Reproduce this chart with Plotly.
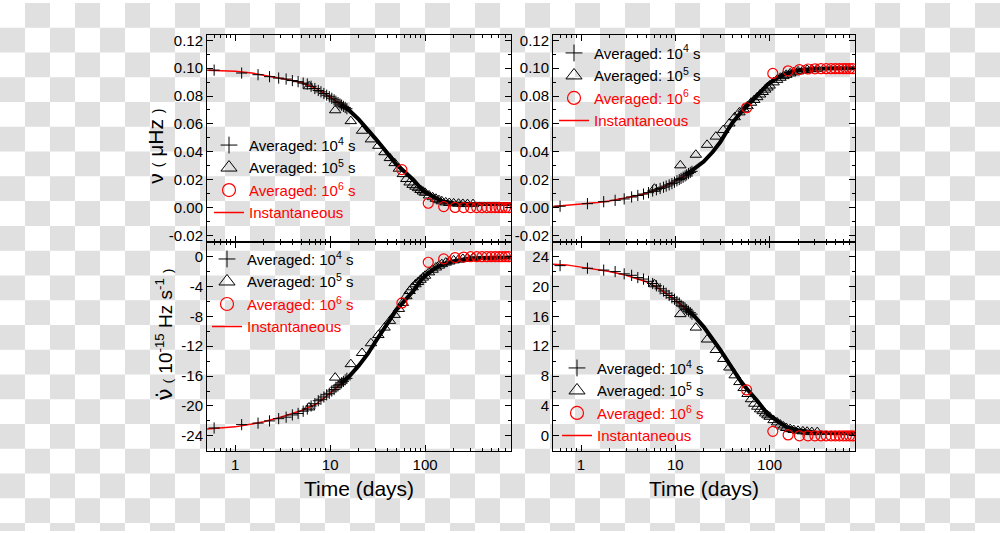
import plotly.graph_objects as go

# ---------------- data ----------------
t_curve = [0.5, 0.7, 1, 1.5, 2, 3, 4, 5, 7, 10, 13, 16, 20, 25, 30, 35, 40, 50, 60, 75, 95, 120, 150, 200, 300, 500, 800]
inst_tl = [0.0986, 0.0982, 0.0977, 0.0965, 0.0950, 0.0930, 0.0912, 0.0895, 0.0858, 0.0792, 0.0738, 0.0695, 0.0633, 0.0562, 0.0495, 0.0440, 0.0388, 0.0308, 0.0260, 0.0201, 0.0120, 0.0078, 0.0046, 0.0031, 0.0025, 0.0025, 0.0025]
inst_tr = [0.0007, 0.0015, 0.0025, 0.0037, 0.0048, 0.0068, 0.0086, 0.0105, 0.0140, 0.0190, 0.0235, 0.0277, 0.0330, 0.0400, 0.0470, 0.0545, 0.0605, 0.0685, 0.0740, 0.0815, 0.0882, 0.0930, 0.0962, 0.0985, 0.0996, 0.1000, 0.1000]
inst_bl = [-23.1, -23.0, -22.8, -22.4, -22.1, -21.5, -21.0, -20.6, -19.8, -18.3, -17.0, -16.0, -14.6, -13.0, -11.4, -10.1, -8.9, -7.1, -6.0, -4.6, -2.8, -1.8, -1.05, -0.6, -0.2, -0.1, -0.1]
inst_br = [23.0, 22.9, 22.6, 22.3, 22.0, 21.5, 21.0, 20.6, 19.6, 18.2, 17.0, 16.0, 14.6, 13.0, 11.5, 10.2, 9.0, 7.2, 6.0, 4.6, 2.9, 1.95, 1.2, 0.75, 0.45, 0.35, 0.35]

t_plus = [0.6, 1.17, 1.74, 2.3, 2.87, 3.44, 4.0, 4.6, 5.2, 5.75, 6.3, 6.9, 7.5, 8.0, 8.6, 9.2, 9.8, 10.4, 11.0, 11.5, 12.1, 12.7, 13.2, 13.8, 14.4, 15.0]
plus_tl = [0.0986, 0.0965, 0.0953, 0.0939, 0.0929, 0.0922, 0.0911, 0.0903, 0.0893, 0.0886, 0.0870, 0.0854, 0.0840, 0.0830, 0.0818, 0.0806, 0.0795, 0.0784, 0.0773, 0.0763, 0.0753, 0.0743, 0.0735, 0.0726, 0.0718, 0.0709]
plus_tr = [0.0010, 0.0028, 0.0042, 0.0052, 0.0062, 0.0076, 0.0087, 0.0097, 0.0107, 0.0119, 0.0128, 0.0137, 0.0146, 0.0154, 0.0163, 0.0172, 0.0182, 0.0192, 0.0201, 0.0209, 0.0218, 0.0227, 0.0235, 0.0244, 0.0252, 0.0260]
plus_bl = [-22.95, -22.5, -22.3, -22.0, -21.7, -21.5, -21.2, -21.0, -20.7, -20.4, -20.0, -19.7, -19.3, -19.1, -18.8, -18.5, -18.3, -18.0, -17.8, -17.5, -17.3, -17.1, -16.9, -16.7, -16.5, -16.3]
plus_br = [22.8, 22.45, 22.2, 22.0, 21.7, 21.5, 21.2, 21.0, 20.7, 20.4, 20.1, 19.7, 19.4, 19.1, 18.8, 18.5, 18.3, 18.0, 17.8, 17.5, 17.3, 17.1, 16.9, 16.7, 16.5, 16.3]

t_tri = [6.0, 11.3, 16.5, 21.7, 26.9, 32.2, 37.4, 42.6, 47.8, 53.0, 58.3, 63.5, 68.7, 73.9, 79.2, 84.4, 89.6, 94.8, 100, 110, 120, 130, 140, 150, 165, 180, 200, 225, 250, 280, 320]
tri_tl = [0.0870, 0.0698, 0.0620, 0.0551, 0.0489, 0.0443, 0.0397, 0.0355, 0.0319, 0.0279, 0.0240, 0.0205, 0.0180, 0.0163, 0.0150, 0.0139, 0.0126, 0.0115, 0.0106, 0.0087, 0.0074, 0.0063, 0.0053, 0.0045, 0.0037, 0.0033, 0.0030, 0.0028, 0.0026, 0.0025, 0.0025]
tri_tr = [0.0135, 0.0303, 0.0379, 0.0450, 0.0509, 0.0556, 0.0603, 0.0648, 0.0683, 0.0705, 0.0728, 0.0752, 0.0772, 0.0792, 0.0811, 0.0829, 0.0846, 0.0861, 0.0875, 0.0898, 0.0916, 0.0931, 0.0943, 0.0952, 0.0962, 0.0970, 0.0977, 0.0983, 0.0988, 0.0992, 0.0995]
tri_bl = [-20.2, -16.2, -14.4, -12.9, -11.6, -10.5, -9.5, -8.6, -7.8, -7.0, -6.2, -5.3, -4.6, -4.1, -3.7, -3.4, -3.1, -2.8, -2.55, -2.1, -1.75, -1.45, -1.2, -1.0, -0.8, -0.65, -0.5, -0.4, -0.3, -0.2, -0.15]
tri_br = [20.3, 16.3, 14.5, 12.9, 11.5, 10.3, 9.15, 8.1, 7.2, 6.4, 5.6, 4.9, 4.3, 3.9, 3.55, 3.3, 3.0, 2.75, 2.55, 2.1, 1.8, 1.5, 1.25, 1.05, 0.9, 0.78, 0.68, 0.6, 0.55, 0.5, 0.5]

t_circ = [57, 108, 157, 207, 255, 302, 350, 398, 448, 497, 548, 600, 650, 703, 757]
circ_tl = [0.0272, 0.0031, 0.0007, 0.0001, 0.0, 0.0, 0.0, 0.0, 0.0, 0.0, 0.0, 0.0, 0.0, 0.0, 0.0]
circ_tr = [0.0716, 0.0962, 0.0981, 0.0990, 0.0994, 0.0995, 0.0996, 0.0996, 0.0996, 0.0996, 0.0996, 0.0996, 0.0996, 0.0996, 0.0996]
circ_bl = [-6.2, -0.75, -0.3, -0.12, -0.05, 0.0, 0.0, 0.0, 0.0, 0.0, 0.0, 0.0, 0.0, 0.0, 0.0]
circ_br = [6.15, 0.6, 0.12, 0.0, 0.0, 0.0, 0.0, 0.0, 0.0, 0.0, 0.0, 0.0, 0.0, 0.0, 0.0]

x_ticks = [1, 10, 100]
y_ticks_nu = [-0.02, 0.0, 0.02, 0.04, 0.06, 0.08, 0.10, 0.12]
y_ticks_bl = [-24, -20, -16, -12, -8, -4, 0]
y_ticks_br = [0, 4, 8, 12, 16, 20, 24]

leg_names = ["Averaged: 10<sup>4</sup> s", "Averaged: 10<sup>5</sup> s",
             "<span style='color:#ff0000'>Averaged: 10<sup>6</sup> s</span>",
             "<span style='color:#ff0000'>Instantaneous</span>"]

# ---------------- layout helpers ----------------
W, H = 1000, 533
FONT = "Liberation Sans, Arial, sans-serif"
RED = "#ff0000"

def fx(p):
    return p / W

def fy(p):
    return 1 - p / H

fig = go.Figure()

panels = [
    dict(xa="x", ya="y", leg="legend", inst=inst_tl, plus=plus_tl, tri=tri_tl, circ=circ_tl),
    dict(xa="x2", ya="y2", leg="legend2", inst=inst_tr, plus=plus_tr, tri=tri_tr, circ=circ_tr),
    dict(xa="x3", ya="y3", leg="legend3", inst=inst_bl, plus=plus_bl, tri=tri_bl, circ=circ_bl),
    dict(xa="x4", ya="y4", leg="legend4", inst=inst_br, plus=plus_br, tri=tri_br, circ=circ_br),
]

band_start = 10
for p in panels:
    common = dict(xaxis=p["xa"], yaxis=p["ya"], legend=p["leg"])
    fig.add_trace(go.Scatter(x=t_curve, y=p["inst"], mode="lines", showlegend=False,
                             line=dict(color=RED, width=1.5), **common))
    fig.add_trace(go.Scatter(x=t_curve[band_start:], y=p["inst"][band_start:], mode="lines",
                             line=dict(color="black", width=4), showlegend=False,
                             hoverinfo="skip", **common))
    fig.add_trace(go.Scatter(x=t_plus, y=p["plus"], mode="markers", showlegend=False,
                             marker=dict(symbol="cross-thin", size=8, line=dict(color="black", width=1)),
                             **common))
    fig.add_trace(go.Scatter(x=t_tri, y=p["tri"], mode="markers", showlegend=False,
                             marker=dict(symbol="triangle-up-open", size=10, color="black",
                                         line=dict(color="black", width=1)), **common))
    fig.add_trace(go.Scatter(x=t_circ, y=p["circ"], mode="markers", showlegend=False,
                             marker=dict(symbol="circle-open", size=10, color=RED,
                                         line=dict(color=RED, width=1.2)), **common))
    # legend entries (larger symbols, as in the reference legend)
    fig.add_trace(go.Scatter(x=[None], y=[None], mode="markers", name=leg_names[0],
                             marker=dict(symbol="cross-thin", size=12, line=dict(color="black", width=1)),
                             **common))
    fig.add_trace(go.Scatter(x=[None], y=[None], mode="markers", name=leg_names[1],
                             marker=dict(symbol="triangle-up-open", size=14, color="black",
                                         line=dict(color="black", width=1)), **common))
    fig.add_trace(go.Scatter(x=[None], y=[None], mode="markers", name=leg_names[2],
                             marker=dict(symbol="circle-open", size=13, color=RED,
                                         line=dict(color=RED, width=1.2)), **common))
    fig.add_trace(go.Scatter(x=[None], y=[None], mode="lines", name=leg_names[3],
                             line=dict(color=RED, width=1.5), **common))

tickfont = dict(family=FONT, size=15, color="black")

def xaxis(domain, anchor, labels):
    return dict(domain=domain, anchor=anchor, type="log", range=[-0.297, 2.905],
                tickvals=x_ticks, ticktext=[str(v) for v in x_ticks],
                ticks="inside", ticklen=6, tickwidth=1, tickcolor="black",
                minor=dict(ticks="inside", ticklen=3, tickwidth=1, tickcolor="black",
                           tickvals=[m * d for d in [0.1, 1, 10, 100] for m in range(2, 10)]),
                showline=True, linecolor="black", linewidth=1, mirror="ticks",
                showgrid=False, zeroline=False, showticklabels=labels, tickfont=tickfont)

def yaxis(domain, anchor, rng, vals, nd, minor_dt):
    return dict(domain=domain, anchor=anchor, range=rng,
                tickvals=vals, ticktext=[f"{v:.{nd}f}" for v in vals],
                ticks="inside", ticklen=6, tickwidth=1, tickcolor="black",
                minor=dict(ticks="inside", ticklen=3, tickwidth=1, tickcolor="black",
                           tickmode="linear", tick0=0, dtick=minor_dt),
                showline=True, linecolor="black", linewidth=1, mirror="ticks",
                showgrid=False, zeroline=False, tickfont=tickfont)

xl = [fx(207), fx(511)]
xr = [fx(553), fx(855)]
yt = [fy(241), fy(32)]
yb = [fy(452), fy(241)]

legend_common = dict(font=dict(family=FONT, size=15, color="black"), bgcolor="rgba(0,0,0,0)",
                     xanchor="left", yanchor="top", traceorder="normal", itemwidth=30)

# checkerboard background
parts = []
S = 25
for r in range(H // S + 1):
    for c in range(W // S + 1):
        if (r + c) % 2 == 1:
            x0, x1 = fx(c * S), fx(min((c + 1) * S, W))
            y0, y1 = fy(r * S), fy(min((r + 1) * S, H))
            parts.append(f"M{x0:.5f},{y0:.5f}H{x1:.5f}V{y1:.5f}H{x0:.5f}Z")
bg_shape = dict(type="path", xref="paper", yref="paper", path="".join(parts),
                fillcolor="#e0e0e0", line=dict(width=0), layer="below")

title_font = dict(family=FONT, size=21, color="black")
annotations = [
    dict(text="ν <span style='font-size:14px'>(</span> μHz <span style='font-size:14px'>)</span>",
         x=fx(156), y=fy(145), xref="paper", yref="paper", textangle=-90,
         xanchor="center", yanchor="middle", showarrow=False, font=title_font),
    dict(text="<span style='font-family:DejaVu Sans;font-size:22px'>ν̇</span> <span style='font-size:13px'>(</span> 10<sup>-15</sup> Hz s<sup>-1</sup> <span style='font-size:13px'>)</span>",
         x=fx(165), y=fy(335), xref="paper", yref="paper", textangle=-90,
         xanchor="center", yanchor="middle", showarrow=False,
         font=dict(family=FONT, size=19, color="black")),
    dict(text="Time (days)", x=fx(359), y=fy(490), xref="paper", yref="paper",
         xanchor="center", yanchor="middle", showarrow=False, font=title_font),
    dict(text="Time (days)", x=fx(704), y=fy(490), xref="paper", yref="paper",
         xanchor="center", yanchor="middle", showarrow=False, font=title_font),
]

fig.update_layout(
    width=W, height=H, margin=dict(l=0, r=0, t=0, b=0),
    paper_bgcolor="white", plot_bgcolor="rgba(0,0,0,0)",
    font=dict(family=FONT, color="black"),
    xaxis=xaxis(xl, "y", False),
    yaxis=yaxis(yt, "x", [-0.0245, 0.124], y_ticks_nu, 2, 0.01),
    xaxis2=xaxis(xr, "y2", False),
    yaxis2=yaxis(yt, "x2", [-0.0245, 0.124], y_ticks_nu, 2, 0.01),
    xaxis3=xaxis(xl, "y3", True),
    yaxis3=yaxis(yb, "x3", [-26, 2], y_ticks_bl, 0, 2),
    xaxis4=xaxis(xr, "y4", True),
    yaxis4=yaxis(yb, "x4", [-2, 26], y_ticks_br, 0, 2),
    legend=dict(x=fx(209), y=fy(127), **legend_common),
    legend2=dict(x=fx(554), y=fy(34), **legend_common),
    legend3=dict(x=fx(207), y=fy(242), **legend_common),
    legend4=dict(x=fx(557), y=fy(352), **legend_common),
    shapes=[bg_shape],
    annotations=annotations,
    showlegend=True,
)

fig.write_html("out.html", config={"displayModeBar": False},
               post_script="document.body.style.margin='0px';document.body.style.overflow='hidden';")
